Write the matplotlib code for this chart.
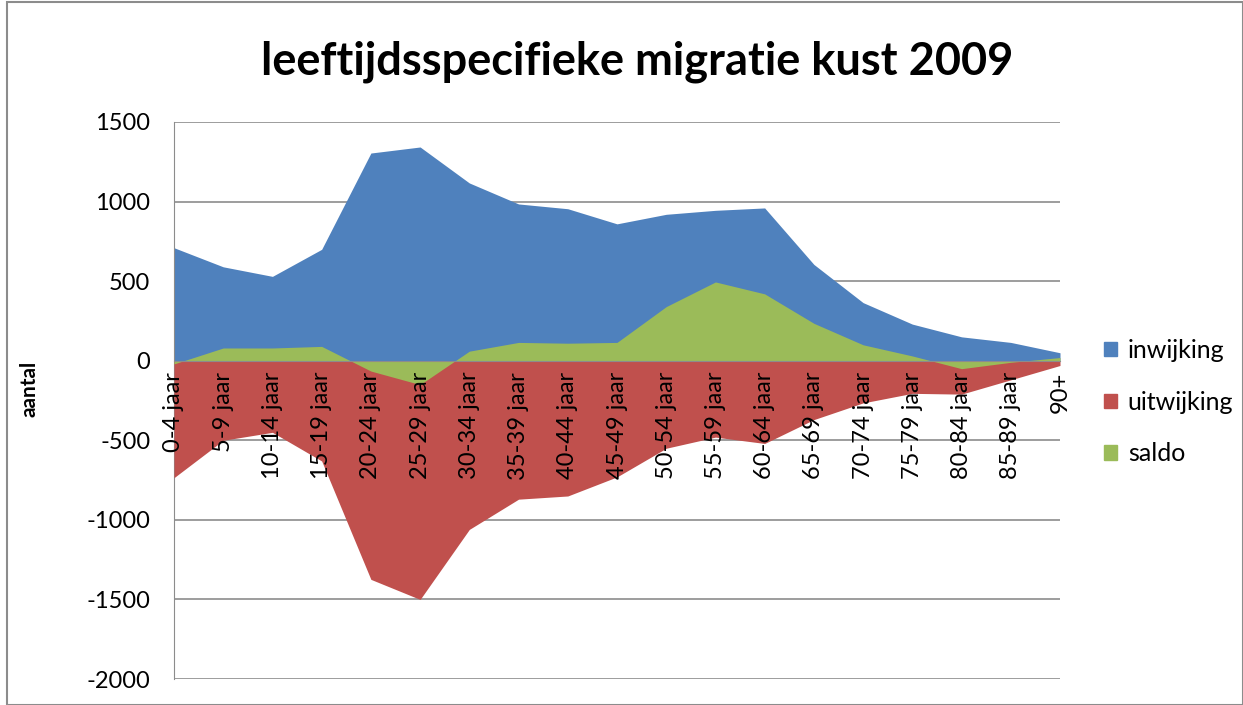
import numpy as np
import matplotlib
matplotlib.use("Agg")
import matplotlib.pyplot as plt
from matplotlib.patches import Patch, Rectangle

categories = ["0-4 jaar", "5-9 jaar", "10-14 jaar", "15-19 jaar", "20-24 jaar", "25-29 jaar",
              "30-34 jaar", "35-39 jaar", "40-44 jaar", "45-49 jaar", "50-54 jaar", "55-59 jaar",
              "60-64 jaar", "65-69 jaar", "70-74 jaar", "75-79 jaar", "80-84 jaar", "85-89 jaar", "90+"]
inwijking = [710, 590, 530, 700, 1305, 1343, 1117, 985, 955, 860, 920, 945, 960, 605, 365, 230, 150, 115, 50]
uitwijking = [-735, -500, -450, -630, -1374, -1500, -1060, -870, -850, -730, -550, -480, -520, -370, -265, -205, -210, -120, -30]
saldo = [-20, 80, 80, 90, -65, -150, 60, 115, 110, 115, 340, 495, 420, 235, 100, 30, -50, -10, 20]

plt.rcParams['font.family'] = ['Lato', 'DejaVu Sans']
plt.rcParams['axes.unicode_minus'] = False

fig = plt.figure(figsize=(12.43, 7.05), dpi=100)
ax = fig.add_axes([174/1243, 1-679/705, (1060-174)/1243, (679-122)/705])

x = np.arange(len(categories))
c_in, c_out, c_sal = "#4F81BD", "#C0504D", "#9BBB59"
ax.fill_between(x, 0, inwijking, color=c_in, lw=0, zorder=2)
ax.fill_between(x, 0, uitwijking, color=c_out, lw=0, zorder=3)
ax.fill_between(x, 0, saldo, color=c_sal, lw=0, zorder=4)

ax.set_xlim(0, len(categories)-1)
ax.set_ylim(-2000, 1500)
ax.set_yticks(np.arange(-2000, 1501, 500))
ax.yaxis.grid(True, color="#8c8c8c", lw=1.2)
ax.set_axisbelow(True)
ax.tick_params(axis='y', length=0, labelsize=17, pad=17)

ax.spines['top'].set_visible(False)
ax.spines['right'].set_visible(False)
ax.spines['left'].set_color("#8c8c8c")
ax.spines['bottom'].set_position(('data', 0))
ax.spines['bottom'].set_color("#8c8c8c")
ax.spines['bottom'].set_zorder(5)
ax.set_xticks(x)
ax.set_xticklabels(categories, rotation=90, fontsize=17)
ax.tick_params(axis='x', length=0, pad=8)
ax.xaxis.set_zorder(10)

ax.set_ylabel("aantal", fontsize=15, fontweight='bold')
ax.yaxis.set_label_coords(-0.152, 0.52)

fig.text(637/1243, 1-62/705, "leeftijdsspecifieke migratie kust 2009", fontsize=32.5,
         fontweight='bold', ha='center', va='center')

handles = [Patch(color=c_in, label="inwijking"), Patch(color=c_out, label="uitwijking"),
           Patch(color=c_sal, label="saldo")]
fig.legend(handles=handles, loc='center left', bbox_to_anchor=(1104/1243, 1-402/705),
           frameon=False, fontsize=18, handlelength=0.5, handleheight=0.5,
           handletextpad=0.45, labelspacing=1.15, borderpad=0, borderaxespad=0)

fig.patches.append(Rectangle((0.006, 0.0), 0.994, 0.997, transform=fig.transFigure,
                             fill=False, edgecolor="#8c8c8c", lw=1.5))

fig.savefig("out.png", dpi=100)
